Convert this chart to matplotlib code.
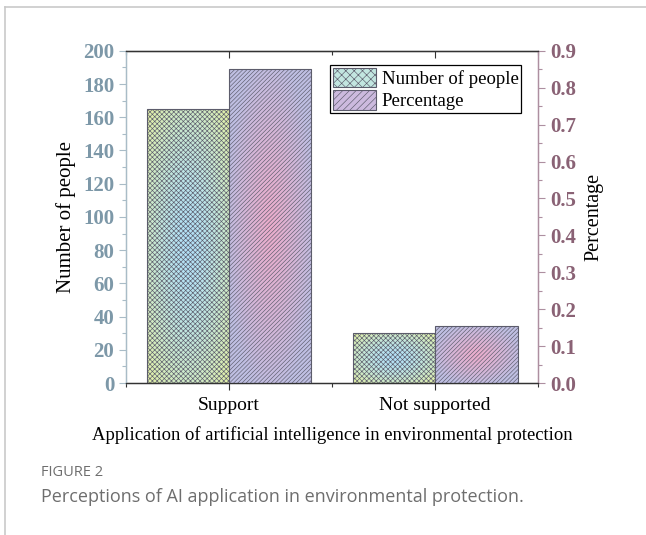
import matplotlib
matplotlib.use("Agg")
import matplotlib.pyplot as plt
import numpy as np
from matplotlib.patches import Patch
from matplotlib.ticker import MultipleLocator

############################################
## Data
############################################

categories = ["Support", "Not supported"]
people = [165, 30]
percentage = [0.85, 0.154]
series_names = ["Number of people", "Percentage"]
x_label = "Application of artificial intelligence in environmental protection"
caption_head = "FIGURE 2"
caption_text = "Perceptions of AI application in environmental protection."

############################################
## Style
############################################

plt.rcParams["font.family"] = ["Liberation Serif", "DejaVu Serif"]
plt.rcParams["hatch.linewidth"] = 0.45

left_col = "#7d98a8"
right_col = "#8a6275"
left_spine = "#a9bcc7"
right_spine = "#ad8fa0"
edge_col = "#5c5c6c"
bar_w = 0.4


def gradient(edge_rgb, center_rgb, n=80, spread=1.35, power=1.6):
    # radial-ish gradient: centre colour in the middle, edge colour at the borders
    yy, xx = np.mgrid[-1:1:n * 1j, -1:1:n * 1j]
    r = np.clip(np.sqrt(xx ** 2 + yy ** 2) / spread, 0, 1) ** power
    r = r[..., None]
    e = np.array(edge_rgb)
    c = np.array(center_rgb)
    return c * (1 - r) + e * r


def fill_bars(ax, bars, img):
    for b in bars:
        x0, y0 = b.get_x(), b.get_y()
        im = ax.imshow(img, extent=(x0, x0 + b.get_width(), y0, y0 + b.get_height()),
                       aspect="auto", zorder=1, interpolation="bilinear")
        im.set_clip_path(b)


############################################
## Plot
############################################

fig = plt.figure(figsize=(6.46, 5.35), dpi=100)
ax = fig.add_axes([0.195, 0.284, 0.638, 0.621])
ax2 = ax.twinx()

x = np.arange(1, len(categories) + 1)

b1 = ax.bar(x - bar_w / 2, people, bar_w, facecolor="none", edgecolor=edge_col,
            hatch="x" * 7, linewidth=0.8, zorder=2)
b2 = ax2.bar(x + bar_w / 2, percentage, bar_w, facecolor="none", edgecolor=edge_col,
             hatch="/" * 8, linewidth=0.8, zorder=2)

blue_img = gradient((0.88, 0.94, 0.66), (0.70, 0.88, 0.97))
pink_img = gradient((0.75, 0.75, 0.89), (0.92, 0.68, 0.80), spread=1.1, power=1.2)
fill_bars(ax, b1, blue_img)
fill_bars(ax2, b2, pink_img)

ax.set_xlim(0.5, 2.5)
ax.set_ylim(0, 200)
ax2.set_ylim(0, 0.9)

ax.set_xticks(x)
ax.set_xticklabels(categories, fontsize=14)
ax.xaxis.set_minor_locator(MultipleLocator(0.5))
ax.tick_params(axis="x", which="major", length=5, width=0.8, colors="#333333", pad=5)
ax.tick_params(axis="x", which="minor", length=3, width=0.8, colors="#333333")
ax.tick_params(axis="x", labelcolor="black")

top = ax.secondary_xaxis("top")
top.set_xticks(x)
top.xaxis.set_minor_locator(MultipleLocator(0.5))
top.tick_params(which="major", direction="in", length=5, width=0.8, colors="#333333",
                labeltop=False)
top.tick_params(which="minor", direction="in", length=3, width=0.8, colors="#333333")
top.spines["top"].set_color("#333333")

ax.yaxis.set_major_locator(MultipleLocator(20))
ax.yaxis.set_minor_locator(MultipleLocator(10))
ax.tick_params(axis="y", which="major", length=5, width=0.8, colors=left_spine,
               labelcolor=left_col, labelsize=15)
ax.tick_params(axis="y", which="minor", length=3, width=0.8, colors=left_spine)
for t in ax.get_yticklabels():
    t.set_fontweight("bold")

ax2.yaxis.set_major_locator(MultipleLocator(0.1))
ax2.yaxis.set_minor_locator(MultipleLocator(0.05))
ax2.yaxis.set_major_formatter(lambda v, p: f"{v:.1f}")
ax2.tick_params(axis="y", which="major", length=5, width=0.8, colors=right_spine,
                labelcolor=right_col, labelsize=15)
ax2.tick_params(axis="y", which="minor", length=3, width=0.8, colors=right_spine)
for t in ax2.get_yticklabels():
    t.set_fontweight("bold")

for a in (ax, ax2):
    a.spines["left"].set_color(left_spine)
    a.spines["right"].set_color(right_spine)
    a.spines["bottom"].set_color("#333333")
    a.spines["top"].set_color("#333333")
    for s in a.spines.values():
        s.set_linewidth(0.9)

ax.set_ylabel(series_names[0], fontsize=15, labelpad=5)
ax2.set_ylabel(series_names[1], fontsize=14.5, labelpad=6)
ax.set_xlabel(x_label, fontsize=13.4, labelpad=9)

handles = [
    Patch(facecolor=(0.76, 0.90, 0.88), edgecolor=edge_col, hatch="x" * 4, linewidth=0.8),
    Patch(facecolor=(0.80, 0.73, 0.87), edgecolor=edge_col, hatch="/" * 5, linewidth=0.8),
]
leg = ax2.legend(handles, series_names, loc="upper right", bbox_to_anchor=(0.959, 0.958),
                 borderaxespad=0, fancybox=False, edgecolor="black", framealpha=1,
                 fontsize=13.5, handlelength=2.3, handleheight=1.25, handletextpad=0.3,
                 borderpad=0.15, labelspacing=0.1)
leg.get_frame().set_linewidth(0.9)

############################################
## Caption and frame
############################################

fig.add_artist(plt.Line2D([5 / 646, 1], [1 - 7 / 535, 1 - 7 / 535], color="#c9c9c9", lw=1.2))
fig.add_artist(plt.Line2D([5 / 646, 5 / 646], [0, 1 - 7 / 535], color="#c9c9c9", lw=1.2))
fig.text(41 / 646, 1 - 472 / 535, caption_head, family="Open Sans", fontsize=10.5,
         color="#6e6e6e", va="center")
fig.text(41 / 646, 1 - 497 / 535, caption_text, family="Open Sans", fontsize=13,
         color="#6e6e6e", va="center")

plt.savefig("out.png", dpi=100)
plt.close()
